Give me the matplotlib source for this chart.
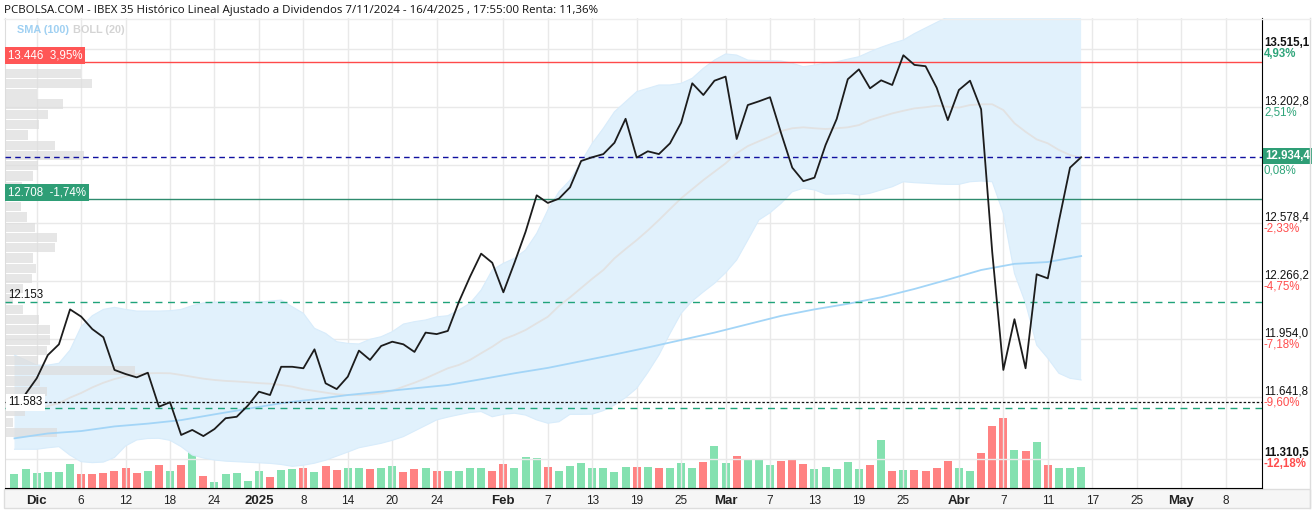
import numpy as np
import pandas as pd
import matplotlib
matplotlib.use('Agg')
import matplotlib.pyplot as plt
from matplotlib.patches import Rectangle
from matplotlib.transforms import blended_transform_factory

W, H = 1315, 512

# trading calendar (Bolsa de Madrid)
holidays = ['2024-12-25', '2024-12-26', '2025-01-01', '2025-04-18', '2025-04-21', '2025-05-01']
days = pd.bdate_range('2024-11-28', '2025-05-16', freq='C', holidays=holidays)
pos = {d.strftime('%Y-%m-%d'): i for i, d in enumerate(days)}

# closes from 29/11/2024 to 16/4/2025
close = [11660, 11744, 11869, 11927, 12115, 12076, 12009, 11965, 11789, 11767,
         11749, 11774, 11591, 11615, 11439, 11466, 11433, 11471, 11529, 11537,
         11597, 11672, 11654, 11806, 11806, 11798, 11900, 11717, 11686, 11753,
         11893, 11843, 11918, 11941, 11927, 11886, 11990, 11982, 11999, 12156,
         12291, 12415, 12366, 12207, 12366, 12533, 12729, 12688, 12711, 12772,
         12914, 12934, 12951, 13012, 13141, 12932, 12966, 12951, 13009, 13120,
         13332, 13269, 13346, 13368, 13032, 13215, 13235, 13257, 13063, 12878,
         12805, 12824, 13000, 13140, 13354, 13407, 13305, 13348, 13323, 13483,
         13431, 13424, 13308, 13134, 13296, 13346, 13192, 12423, 11789, 12062,
         11798, 12304, 12282, 12590, 12878, 12934]

# volume from 28/11/2024 (relative units), u = up day, d = down day
volume = [13.8, 18.7, 15.4, 16.4, 16.4, 24.3, 14.4, 14.4, 15.4, 17.0,
          20.3, 15.4, 17.0, 23.3, 17.0, 23.3, 41.0, 12.1, 5.6, 13.8,
          14.8, 7.2, 17.0, 11.5, 18.0, 18.7, 20.0, 16.0, 22.0, 18.0,
          20.0, 20.0, 19.0, 20.0, 22.0, 16.0, 19.0, 20.0, 17.0, 17.0,
          17.0, 20.0, 20.0, 17.0, 24.3, 20.0, 31.0, 30.0, 21.3, 17.0,
          22.3, 25.0, 20.0, 20.0, 16.0, 21.3, 21.3, 20.7, 20.3, 20.3,
          25.2, 20.3, 26.2, 42.3, 25.2, 32.5, 29.2, 29.2, 22.6, 27.2,
          29.2, 23.6, 18.7, 21.3, 18.7, 26.2, 19.3, 22.6, 48.0, 17.4,
          18.4, 18.4, 17.4, 20.3, 27.2, 20.3, 17.4, 35.0, 62.0, 70.0,
          38.4, 37.0, 45.9, 22.6, 20.3, 20.3, 21.3]
vol_dir = ('uuuuuu' 'dddddd' 'ududud' 'uuuuu' 'duududd' 'uuduudd' 'uduuuudd'
           'uuuduuuuuuudud' 'uuuduuduuuddd' 'uuuuudududddd' 'uudddududuuu')

# Bollinger (20) upper / lower, from 28/11/2024
boll_up = [11869, 11842, 11815, 11815, 11825, 11896, 12022, 12081, 12115, 12126,
           12115, 12106, 12106, 12106, 12108, 12115, 12135, 12150, 12154, 12156,
           12156, 12156, 12154, 12160, 12165, 12129, 12094, 12013, 11986, 11941,
           11932, 11929, 11954, 11968, 11995, 12036, 12049, 12058, 12075, 12081,
           12112, 12148, 12219, 12327, 12363, 12390, 12435, 12524, 12650, 12748,
           12811, 12910, 13009, 13090, 13179, 13233, 13287, 13305, 13323, 13323,
           13332, 13359, 13413, 13457, 13490, 13484, 13457, 13454, 13454, 13452,
           13440, 13421, 13430, 13440, 13448, 13462, 13475, 13502, 13526, 13547,
           13565, 13600, 13630, 13660, 13690, 13710, 13730, 13760, 13900, 14100,
           14200, 14300, 14350, 14380, 14400, 14400, 14400]
boll_lo = [11362, 11362, 11362, 11370, 11376, 11330, 11295, 11290, 11293, 11318,
           11380, 11412, 11420, 11421, 11410, 11376, 11331, 11315, 11304, 11298,
           11295, 11292, 11289, 11286, 11280, 11270, 11276, 11287, 11303, 11325,
           11347, 11370, 11382, 11394, 11410, 11430, 11460, 11490, 11520, 11535,
           11548, 11560, 11565, 11537, 11550, 11556, 11546, 11520, 11502, 11510,
           11550, 11550, 11551, 11570, 11600, 11640, 11690, 11775, 11869, 11985,
           12094, 12160, 12209, 12255, 12312, 12381, 12488, 12596, 12635, 12686,
           12748, 12767, 12758, 12735, 12736, 12740, 12731, 12740, 12758, 12775,
           12802, 12797, 12794, 12790, 12788, 12788, 12802, 12806, 12802, 12632,
           12309, 12148, 11923, 11852, 11771, 11744, 11735]
# Bollinger middle, from 2/12/2024
boll_mid = [11580, 11595, 11610, 11640, 11665, 11695, 11720, 11740, 11755, 11765,
            11771, 11772, 11771, 11762, 11752, 11742, 11735, 11730, 11727, 11723,
            11718, 11715, 11708, 11699, 11685, 11676, 11667, 11658, 11654, 11654,
            11658, 11663, 11677, 11699, 11720, 11744, 11771, 11798, 11816, 11843,
            11879, 11914, 11954, 11977, 12004, 12040, 12075, 12133, 12180, 12230,
            12280, 12327, 12390, 12440, 12488, 12540, 12596, 12655, 12713, 12762,
            12811, 12856, 12901, 12955, 12994, 13020, 13045, 13075, 13090, 13095,
            13090, 13086, 13090, 13095, 13107, 13134, 13152, 13170, 13184, 13197,
            13203, 13211, 13206, 13201, 13215, 13219, 13219, 13188, 13117, 13071,
            13030, 13009, 12973, 12946, 12931]

# SMA (100), read every third session from 28/11/2024
sma100 = [11421, 11447, 11460, 11485, 11500, 11519, 11550, 11580, 11610, 11631,
          11654, 11672, 11690, 11708, 11739, 11771, 11800, 11836, 11872, 11910,
          11950, 11990, 12035, 12080, 12115, 12145, 12180, 12225, 12275, 12327,
          12360, 12370, 12402]

# volume by price (left profile)
profile_price = [13385, 13330, 13275, 13220, 13164, 13109, 13054, 12999, 12944, 12888,
                 12833, 12778, 12723, 12668, 12612, 12557, 12502, 12447, 12392, 12336,
                 12281, 12226, 12171, 12116, 12060, 12005, 11950, 11895, 11840, 11784,
                 11729, 11674, 11619, 11564, 11508, 11453]
profile_vol = [76, 87, 32, 58, 43, 34, 23, 50, 79, 33,
               28, 17, 43, 16, 22, 30, 52, 50, 28, 31,
               27, 18, 8, 18, 34, 45, 45, 42, 33, 130,
               35, 42, 20, 20, 8, 52]

ticks_y = [13515.1, 13202.8, 12890.6, 12578.4, 12266.2, 11954.0, 11641.8, 11310.5]
ticks_y_txt = ['13.515,1', '13.202,8', '', '12.578,4', '12.266,2', '11.954,0', '11.641,8', '11.310,5']
ticks_y_pct = ['4,93%', '2,51%', '0,08%', '-2,33%', '-4,75%', '-7,18%', '-9,60%', '-12,18%']

ticks_x = [('2024-12-02', 'Dic'), ('2024-12-06', '6'), ('2024-12-12', '12'), ('2024-12-18', '18'),
           ('2024-12-24', '24'), ('2025-01-02', '2025'), ('2025-01-08', '8'), ('2025-01-14', '14'),
           ('2025-01-20', '20'), ('2025-01-24', '24'), ('2025-02-03', 'Feb'), ('2025-02-07', '7'),
           ('2025-02-13', '13'), ('2025-02-19', '19'), ('2025-02-25', '25'), ('2025-03-03', 'Mar'),
           ('2025-03-07', '7'), ('2025-03-13', '13'), ('2025-03-19', '19'), ('2025-03-25', '25'),
           ('2025-04-01', 'Abr'), ('2025-04-07', '7'), ('2025-04-11', '11'), ('2025-04-17', '17'),
           ('2025-04-25', '25'), ('2025-05-02', 'May'), ('2025-05-08', '8')]
month_labels = {'Dic', '2025', 'Feb', 'Mar', 'Abr', 'May'}

last_price = 12934.4
level_hi, level_lo = 13446, 12708
support_hi, support_lo = 12153, 11583
start_price = 11615

# ---------------------------------------------------------------
plt.rcParams['font.family'] = ['Liberation Sans', 'DejaVu Sans']
fig = plt.figure(figsize=(W / 100, H / 100), dpi=100)
fig.patch.set_facecolor('white')

def px(x0, y0, x1, y1):
    return [x0 / W, 1 - y1 / H, (x1 - x0) / W, (y1 - y0) / H]

ax = fig.add_axes(px(5, 18, 1262, 488))
vax = ax.twinx()
ax.set_zorder(vax.get_zorder() + 1)
ax.patch.set_visible(False)

ax.set_xlim(-0.855, 112.28)
ax.set_ylim(11153.5, 13683.5)

# grid
for t in ticks_y:
    ax.axhline(t, color='#e9e9e9', lw=1, zorder=0)
xt = [pos[d] for d, _ in ticks_x]
for x in xt:
    ax.axvline(x, color='#e9e9e9', lw=1, zorder=0)

# bollinger band
idx_all = np.arange(len(boll_up))
ax.fill_between(idx_all, boll_lo, boll_up, color='#e1f1fc', lw=0, zorder=1)
ax.plot(idx_all, boll_up, color='#d8ecfb', lw=0.8, zorder=1)
ax.plot(idx_all, boll_lo, color='#d8ecfb', lw=0.8, zorder=1)
ax.plot(np.arange(2, 2 + len(boll_mid)), boll_mid, color='#e2e2e2', lw=1.3, zorder=2)
ax.plot(np.arange(0, 3 * len(sma100), 3), sma100, color='#a3d5f7', lw=1.3, zorder=3)

# volume profile on the left
tr = blended_transform_factory(ax.transAxes, ax.transData)
plot_w = 1262 - 5
for p, v in zip(profile_price, profile_vol):
    ax.add_patch(Rectangle((0, p - 24.9), v / plot_w, 49.8, transform=tr,
                           facecolor='#dedede', alpha=0.75, lw=0, zorder=2.5))

# reference lines
ax.axhline(level_hi, color='#ff4a4a', lw=1, zorder=4)
ax.axhline(level_lo, color='#2e8b6e', lw=1, zorder=4)
ax.axhline(last_price, color='#1010a0', lw=1, ls=(0, (4, 3)), zorder=4)
ax.axhline(support_hi, color='#1fa37a', lw=1, ls=(0, (5, 4)), zorder=4)
ax.axhline(support_lo, color='#1fa37a', lw=1, ls=(0, (5, 4)), zorder=4)
ax.axhline(start_price, color='#111111', lw=0.9, ls=(0, (2, 1.5)), zorder=4)

# price
ax.plot(np.arange(1, 1 + len(close)), close, color='#1c1c1c', lw=1.3, zorder=6)

# volume bars
colors = ['#84e1b0' if c == 'u' else '#ff8282' for c in vol_dir]
vax.bar(np.arange(len(volume)), volume, width=0.72, color=colors, lw=0)
vax.set_ylim(0, 470)
vax.set_yticks([])
for s in vax.spines.values():
    s.set_visible(False)

# axes cosmetics
ax.set_yticks([])
ax.set_xticks(xt)
ax.set_xticklabels([l for _, l in ticks_x], fontsize=8.5, color='#222222')
for lab in ax.get_xticklabels():
    if lab.get_text() in month_labels:
        lab.set_fontweight('bold')
        lab.set_fontsize(9.5)
ax.tick_params(axis='x', length=0, pad=5)
ax.spines['top'].set_visible(False)
ax.spines['left'].set_color('#dddddd')
ax.spines['right'].set_color('black')
ax.spines['bottom'].set_color('black')

# right scale labels
ytr = ax.get_yaxis_transform()
last_i = len(ticks_y) - 1
for i, (t, s, pc) in enumerate(zip(ticks_y, ticks_y_txt, ticks_y_pct)):
    w = 'bold' if i in (0, last_i) else 'normal'
    if s:
        ax.annotate(s, xy=(1, t), xycoords=ytr, xytext=(2, 6), textcoords='offset pixels',
                    va='center', ha='left', fontsize=8.3, color='#111111', fontweight=w,
                    annotation_clip=False)
    ax.annotate(pc, xy=(1, t), xycoords=ytr, xytext=(2, -5), textcoords='offset pixels',
                va='center', ha='left', fontsize=8.3, fontweight=w,
                color='#2fa57a' if not pc.startswith('-') else '#ff4d4d',
                annotation_clip=False)

ax.annotate('12.934,4', xy=(1, last_price), xycoords=ytr, xytext=(3, 1), textcoords='offset pixels',
            va='center', ha='left', fontsize=8.3, color='white', fontweight='bold',
            bbox=dict(boxstyle='square,pad=0.2', fc='#2e9e76', ec='none'), annotation_clip=False)

# left level labels
ax.annotate('13.446  3,95%', xy=(0, level_hi), xycoords=ytr, xytext=(3, 7), textcoords='offset pixels',
            va='center', ha='left', fontsize=8.3, color='white',
            bbox=dict(boxstyle='square,pad=0.22', fc='#ff5656', ec='none'), zorder=7)
ax.annotate('12.708  -1,74%', xy=(0, level_lo), xycoords=ytr, xytext=(3, 7), textcoords='offset pixels',
            va='center', ha='left', fontsize=8.3, color='white',
            bbox=dict(boxstyle='square,pad=0.22', fc='#2e9e76', ec='none'), zorder=7)
ax.annotate('12.153', xy=(0, support_hi), xycoords=ytr, xytext=(3, 7), textcoords='offset pixels',
            va='center', ha='left', fontsize=8.3, color='#111111', zorder=7)
ax.annotate('11.583', xy=(0, start_price), xycoords=ytr, xytext=(3, 0), textcoords='offset pixels',
            va='center', ha='left', fontsize=8.3, color='#111111',
            bbox=dict(boxstyle='square,pad=0.2', fc='white', ec='none'), zorder=7)

# title / legend
fig.text(4 / W, 1 - 11 / H,
         'PCBOLSA.COM - IBEX 35 Histórico Lineal Ajustado a Dividendos 7/11/2024 - 16/4/2025 , 17:55:00 Renta: 11,36%',
         fontsize=8.25, family=['Open Sans', 'DejaVu Sans'], va='center', ha='left', color='#111111')
leg_font = ['Liberation Sans Narrow', 'Liberation Sans', 'DejaVu Sans']
sma_txt = fig.text(17 / W, 1 - 30 / H, 'SMA (100)', fontsize=7.8, fontweight='bold',
                   family=leg_font, color='#9fd0f2', va='center')
fig.canvas.draw()
bb = sma_txt.get_window_extent()
fig.text((bb.x1 + 4) / W, 1 - 30 / H, 'BOLL (20)', fontsize=7.8, fontweight='bold',
         family=leg_font, color='#d4d4d4', va='center')

# bottom strip and right border
fig.patches.append(Rectangle((4 / W, 1 - 508 / H), 1306 / W, 19 / H, transform=fig.transFigure,
                             facecolor='#f6f6f6', edgecolor='#dddddd', lw=1, zorder=-1))
fig.lines.append(plt.Line2D([1310 / W, 1310 / W], [1 - 508 / H, 1 - 18 / H],
                            transform=fig.transFigure, color='#dddddd', lw=1))
fig.lines.append(plt.Line2D([4 / W, 1310 / W], [1 - 19 / H, 1 - 19 / H],
                            transform=fig.transFigure, color='#eeeeee', lw=1))

fig.savefig('out.png', dpi=100, facecolor='white')
